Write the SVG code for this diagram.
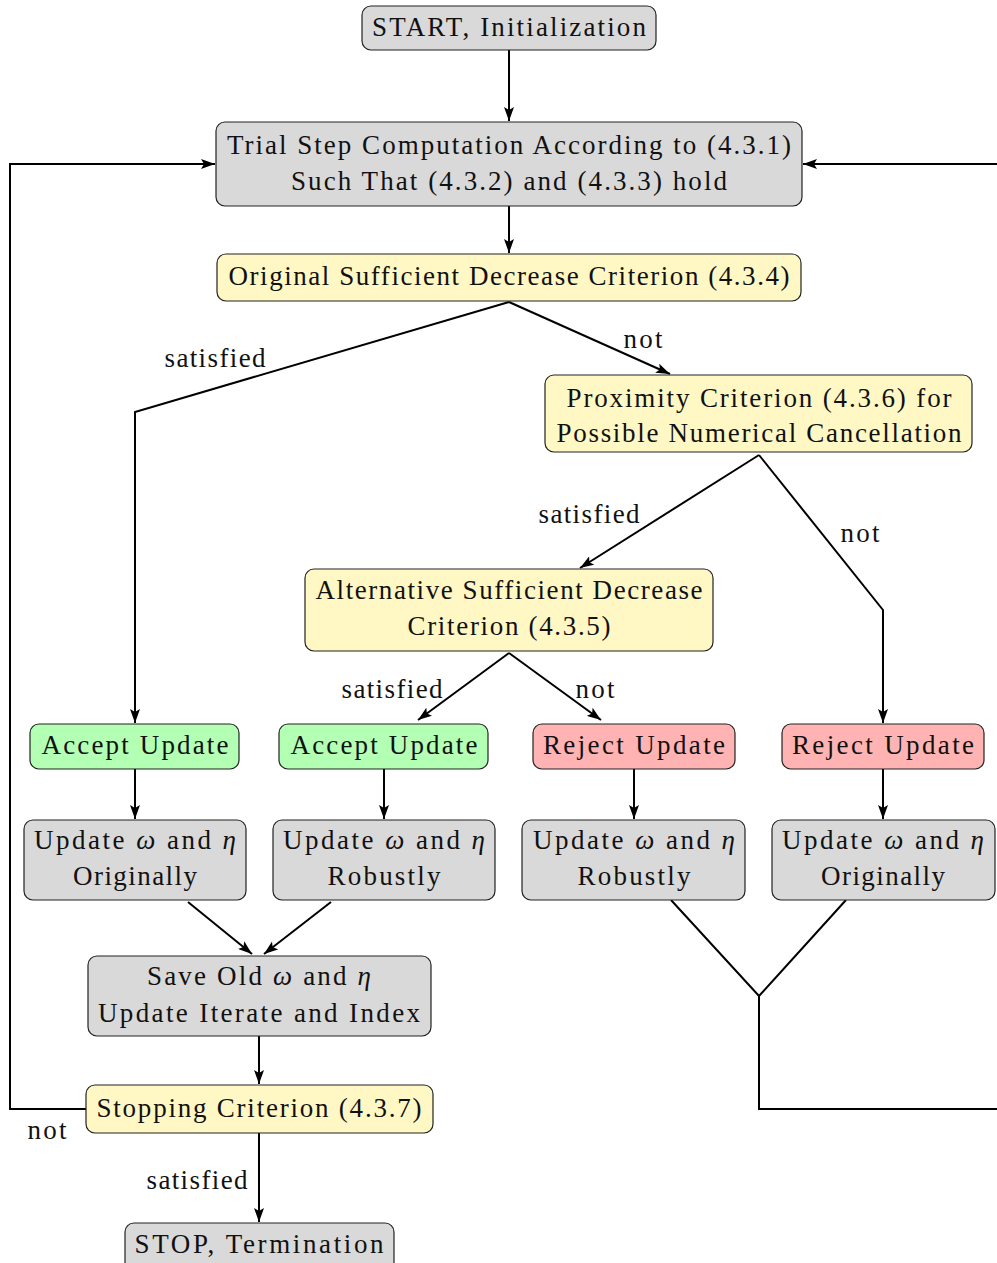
<svg xmlns="http://www.w3.org/2000/svg" width="997" height="1263" viewBox="0 0 997 1263" font-family="'Liberation Serif', 'DejaVu Serif', 'Noto Serif', Times, serif">
<style>
.n rect{stroke:#222;stroke-width:1.2}
.g rect{fill:#d9d9d9}
.y rect{fill:#fff8c5}
.gr rect{fill:#b3ffb3}
.r rect{fill:#ffb3b3}
text{font-size:27px;fill:#111;text-anchor:middle}
.c path{fill:none;stroke:#000;stroke-width:2}
.i{font-style:italic}
</style>
<defs>
<marker id="a" viewBox="0 0 14 10" refX="14" refY="5" markerWidth="14" markerHeight="10" markerUnits="userSpaceOnUse" orient="auto">
<path d="M0,0 L14,5 L0,10 L3,5 Z" fill="#000"/>
</marker>
</defs>
<g class="c">
<path d="M509,50 V121" marker-end="url(#a)"/>
<path d="M86,1109 H10 V164 H215" marker-end="url(#a)"/>
<path d="M997,164 H803" marker-end="url(#a)"/>
<path d="M509,206 V253" marker-end="url(#a)"/>
<path d="M509,302 L135,412 V723" marker-end="url(#a)"/>
<path d="M509,302 L670,374" marker-end="url(#a)"/>
<path d="M759,455 L580,568" marker-end="url(#a)"/>
<path d="M759,455 L883,610 V723" marker-end="url(#a)"/>
<path d="M509,653 L418,720" marker-end="url(#a)"/>
<path d="M509,653 L601,720" marker-end="url(#a)"/>
<path d="M135,769 V819" marker-end="url(#a)"/>
<path d="M384,769 V819" marker-end="url(#a)"/>
<path d="M634,769 V819" marker-end="url(#a)"/>
<path d="M883,769 V819" marker-end="url(#a)"/>
<path d="M188,902 L252,954" marker-end="url(#a)"/>
<path d="M331,902 L264,954" marker-end="url(#a)"/>
<path d="M671,900 L759,996 L846,900 M759,996 V1109 H997"/>
<path d="M259,1036 V1084" marker-end="url(#a)"/>
<path d="M259,1133 V1222" marker-end="url(#a)"/>
<text x="215" y="367" textLength="101">satisfied</text>
<text x="643" y="348" textLength="39">not</text>
<text x="589" y="523" textLength="101">satisfied</text>
<text x="860" y="542" textLength="39">not</text>
<text x="392" y="698" textLength="101">satisfied</text>
<text x="595" y="698" textLength="39">not</text>
<text x="197" y="1189" textLength="101">satisfied</text>
<text x="47" y="1139" textLength="39">not</text>
</g>
<g id="start" class="n g"><rect x="362" y="6" width="294" height="44" rx="9"/><text x="509" y="36" textLength="274">START, Initialization</text></g>
<g id="trial" class="n g"><rect x="216" y="122" width="586" height="84" rx="9"/><text x="509" y="154" textLength="564">Trial Step Computation According to (4.3.1)</text><text x="509" y="190" textLength="436">Such That (4.3.2) and (4.3.3) hold</text></g>
<g id="orig" class="n y"><rect x="217" y="254" width="584" height="47" rx="9"/><text x="509" y="285" textLength="561">Original Sufficient Decrease Criterion (4.3.4)</text></g>
<g id="prox" class="n y"><rect x="545" y="375" width="427" height="77" rx="9"/><text x="759" y="407" textLength="385">Proximity Criterion (4.3.6) for</text><text x="759" y="442" textLength="405">Possible Numerical Cancellation</text></g>
<g id="alt" class="n y"><rect x="305" y="569" width="408" height="82" rx="9"/><text x="509" y="599" textLength="387">Alternative Sufficient Decrease</text><text x="509" y="635" textLength="203">Criterion (4.3.5)</text></g>
<g id="acc1" class="n gr"><rect x="30" y="724" width="209" height="45" rx="9"/><text x="135" y="754" textLength="187">Accept Update</text></g>
<g id="acc2" class="n gr"><rect x="279" y="724" width="209" height="45" rx="9"/><text x="384" y="754" textLength="187">Accept Update</text></g>
<g id="rej1" class="n r"><rect x="533" y="724" width="202" height="45" rx="9"/><text x="634" y="754" textLength="182">Reject Update</text></g>
<g id="rej2" class="n r"><rect x="782" y="724" width="202" height="45" rx="9"/><text x="883" y="754" textLength="182">Reject Update</text></g>
<g id="upd1" class="n g"><rect x="24" y="820" width="222" height="80" rx="9"/><text x="135" y="849" textLength="202">Update <tspan class="i">ω</tspan> and <tspan class="i">η</tspan></text><text x="135" y="885" textLength="124">Originally</text></g>
<g id="upd2" class="n g"><rect x="273" y="820" width="222" height="80" rx="9"/><text x="384" y="849" textLength="202">Update <tspan class="i">ω</tspan> and <tspan class="i">η</tspan></text><text x="384" y="885" textLength="113">Robustly</text></g>
<g id="upd3" class="n g"><rect x="522" y="820" width="223" height="80" rx="9"/><text x="634" y="849" textLength="202">Update <tspan class="i">ω</tspan> and <tspan class="i">η</tspan></text><text x="634" y="885" textLength="113">Robustly</text></g>
<g id="upd4" class="n g"><rect x="772" y="820" width="223" height="80" rx="9"/><text x="883" y="849" textLength="202">Update <tspan class="i">ω</tspan> and <tspan class="i">η</tspan></text><text x="883" y="885" textLength="124">Originally</text></g>
<g id="save" class="n g"><rect x="88" y="956" width="343" height="80" rx="9"/><text x="259" y="985" textLength="224">Save Old <tspan class="i">ω</tspan> and <tspan class="i">η</tspan></text><text x="259" y="1022" textLength="322">Update Iterate and Index</text></g>
<g id="stopc" class="n y"><rect x="86" y="1085" width="347" height="48" rx="9"/><text x="259" y="1117" textLength="325">Stopping Criterion (4.3.7)</text></g>
<g id="stop" class="n g"><rect x="125" y="1223" width="269" height="50" rx="9"/><text x="259" y="1253" textLength="249">STOP, Termination</text></g>
</svg>
